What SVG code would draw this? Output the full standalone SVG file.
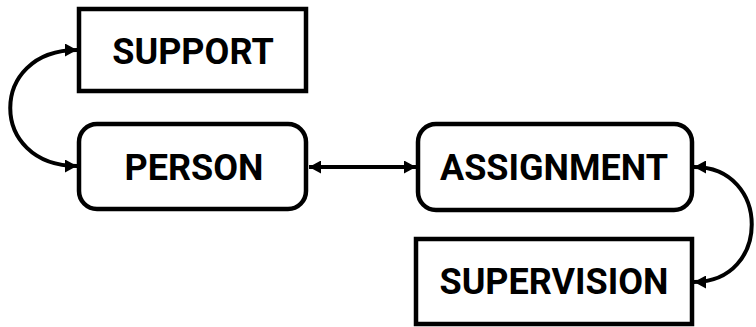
<svg xmlns="http://www.w3.org/2000/svg" width="756" height="327" viewBox="0 0 756 327">
  <style>
    .box { fill: #ffffff; stroke: #000000; stroke-width: 4.5; }
    .lbl { font-family: Roboto, "Liberation Sans", sans-serif; font-weight: 700; font-size: 36px; fill: #000000; text-anchor: middle; }
    .conn { fill: none; stroke: #000000; stroke-width: 4; }
  </style>
  <defs>
    <marker id="ah" viewBox="0 0 12 13" refX="12" refY="6.5" markerWidth="12" markerHeight="13" markerUnits="userSpaceOnUse" orient="auto-start-reverse">
      <path d="M0,0 L12,6.5 L0,13 Z" fill="#000000"/>
    </marker>
  </defs>
  <rect width="756" height="327" fill="#ffffff"/>
  <g id="connectors">
    <path class="conn" d="M77,50 C-12,50 -12,166 77,166" marker-start="url(#ah)" marker-end="url(#ah)"/>
    <path class="conn" d="M309,167 L416,167" marker-start="url(#ah)" marker-end="url(#ah)"/>
    <path class="conn" d="M694,167 C771,167 771,282 694,282" marker-start="url(#ah)" marker-end="url(#ah)"/>
  </g>
  <g id="support">
    <rect class="box" x="79" y="9" width="227" height="82"/>
    <text class="lbl" x="193" y="64">SUPPORT</text>
  </g>
  <g id="person">
    <rect class="box" x="79" y="124" width="227" height="85" rx="18"/>
    <text class="lbl" x="194" y="180">PERSON</text>
  </g>
  <g id="assignment">
    <rect class="box" x="418" y="124" width="274" height="86" rx="18"/>
    <text class="lbl" x="554" y="180">ASSIGNMENT</text>
  </g>
  <g id="supervision">
    <rect class="box" x="416" y="239" width="276" height="85"/>
    <text class="lbl" x="554" y="294">SUPERVISION</text>
  </g>
</svg>
